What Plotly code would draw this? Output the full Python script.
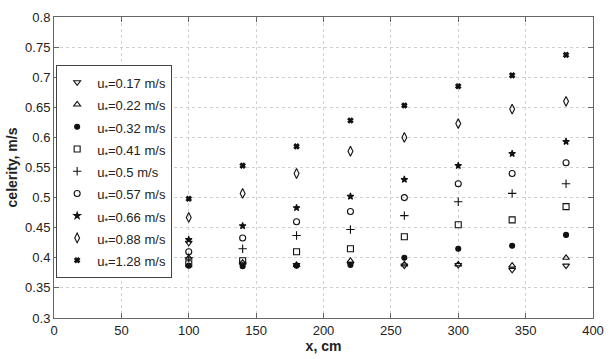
import plotly.graph_objects as go

x_cm = [100, 140, 180, 220, 260, 300, 340, 380]

labels = ["0.17", "0.22", "0.32", "0.41", "0.5", "0.57", "0.66", "0.88", "1.28"]

c_017 = [0.425, 0.390, 0.388, 0.390, 0.387, 0.388, 0.380, 0.387]
c_022 = [0.400, 0.392, 0.388, 0.395, 0.389, 0.389, 0.387, 0.400]
c_032 = [0.387, 0.386, 0.387, 0.388, 0.400, 0.415, 0.420, 0.438]
c_041 = [0.390, 0.395, 0.410, 0.415, 0.435, 0.455, 0.463, 0.485]
c_050 = [0.400, 0.415, 0.437, 0.447, 0.470, 0.493, 0.507, 0.523]
c_057 = [0.410, 0.433, 0.460, 0.477, 0.500, 0.523, 0.540, 0.558]
c_066 = [0.430, 0.453, 0.483, 0.502, 0.530, 0.553, 0.573, 0.593]
c_088 = [0.467, 0.507, 0.540, 0.577, 0.600, 0.623, 0.647, 0.660]
c_128 = [0.498, 0.553, 0.585, 0.628, 0.653, 0.685, 0.703, 0.737]

series = [c_017, c_022, c_032, c_041, c_050, c_057, c_066, c_088, c_128]
symbols = ["triangle-down-open", "triangle-up-open", "circle", "square-open",
           "cross-thin-open", "circle-open", "star", "diamond-tall-open", "x"]
sizes = [6, 6, 5, 6, 6, 6, 5, 7, 4.5]

y_ticks = [0.3, 0.35, 0.4, 0.45, 0.5, 0.55, 0.6, 0.65, 0.7, 0.75, 0.8]
y_ticktext = ["0.3", "0.35", "0.4", "0.45", "0.5", "0.55", "0.6", "0.65", "0.7", "0.75", "0.8"]
x_ticks = [0, 50, 100, 150, 200, 250, 300, 350, 400]

FONT = "Arial, Liberation Sans, sans-serif"

fig = go.Figure()
for lab, ys, sym, sz in zip(labels, series, symbols, sizes):
    fig.add_trace(go.Scatter(
        x=x_cm, y=ys, mode="markers",
        name=f'<span style="font-size:13px">u<sub>*</sub>={lab} m/s</span>',
        marker=dict(symbol=sym, size=sz, color="#111",
                    line=dict(color="#111", width=1.1)),
    ))

axis_common = dict(
    showline=True, linecolor="#666", linewidth=1, mirror="ticks",
    ticks="inside", ticklen=5, tickcolor="#666",
    showgrid=True, gridcolor="#d0d0d0", griddash="dot", gridwidth=1,
    zeroline=False, tickfont=dict(family=FONT, size=13, color="#222"),
)

fig.update_xaxes(range=[0, 400], tickvals=x_ticks,
                 title=dict(text="<b>x, cm</b>", font=dict(family=FONT, size=14, color="#222"), standoff=2),
                 **axis_common)
fig.update_yaxes(range=[0.3, 0.8], tickvals=y_ticks, ticktext=y_ticktext,
                 title=dict(text="<b>celerity, m/s</b>", font=dict(family=FONT, size=14, color="#222"), standoff=4),
                 **axis_common)

fig.update_layout(
    width=614, height=359,
    margin=dict(l=54, r=11, t=10, b=37),
    plot_bgcolor="white", paper_bgcolor="white",
    showlegend=True,
    legend=dict(x=0.004, y=0.84, xanchor="left", yanchor="top",
                bgcolor="white", bordercolor="#444", borderwidth=1,
                font=dict(family=FONT, size=14.8, color="#222"),
                tracegroupgap=0, itemwidth=30),
)

fig.write_html("out.html")
